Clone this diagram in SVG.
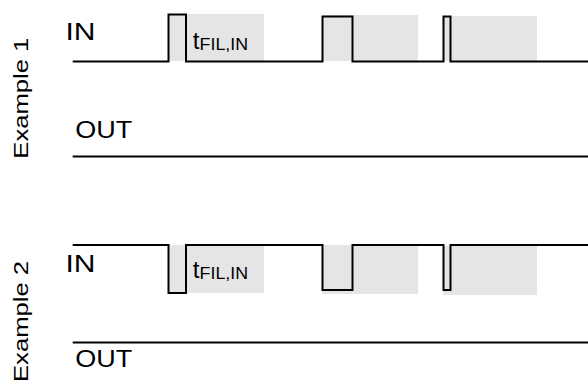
<svg xmlns="http://www.w3.org/2000/svg" width="588" height="386" viewBox="0 0 588 386">
<style>
.sig{fill:none;stroke:#000;stroke-width:2;stroke-linejoin:miter}
.win{fill:#e5e5e5;stroke:none}
.lbl{font-family:"Liberation Sans",Arial,sans-serif;font-size:23px;fill:#000}
.ex{font-size:21px}
.t{font-size:24px}
.sub{font-size:16px}
</style>
<rect width="588" height="386" fill="#fff"/>
<g id="filters1">
<rect class="win" x="168" y="14" width="96" height="47"/>
<rect class="win" x="323" y="15" width="95" height="46"/>
<rect class="win" x="444" y="16" width="93" height="45"/>
</g>
<g id="filters2">
<rect class="win" x="168" y="245" width="96" height="48"/>
<rect class="win" x="322" y="245" width="96" height="49"/>
<rect class="win" x="443" y="246" width="94" height="49"/>
</g>
<g id="connectors">
<path class="sig" d="M72.7,61.5 H168.5 V14.5 H186 V61.5 H322.5 V16.5 H352.5 V61.5 H443.5 V16.5 H450.5 V61.5 H588"/>
<path class="sig" d="M72.7,156.5 H588"/>
<path class="sig" d="M72.7,245 H168.5 V293 H186 V245 H322.5 V290 H352.5 V245 H443.5 V290 H450.5 V245 H588"/>
<path class="sig" d="M72.7,342.5 H588"/>
</g>
<g id="example1">
<text class="lbl ex" transform="translate(28.3,158.7) rotate(-90)" textLength="121" lengthAdjust="spacingAndGlyphs">Example 1</text>
<text class="lbl" x="65.5" y="40" textLength="30" lengthAdjust="spacingAndGlyphs">IN</text>
<text class="lbl t" x="192.8" y="48.5">t</text>
<text class="lbl sub" x="199.6" y="50" textLength="48.4" lengthAdjust="spacingAndGlyphs">FIL,IN</text>
<text class="lbl" x="75.2" y="138.3" textLength="57" lengthAdjust="spacingAndGlyphs">OUT</text>
</g>
<g id="example2">
<text class="lbl ex" transform="translate(28.3,382) rotate(-90)" textLength="121" lengthAdjust="spacingAndGlyphs">Example 2</text>
<text class="lbl" x="65.5" y="271.7" textLength="30" lengthAdjust="spacingAndGlyphs">IN</text>
<text class="lbl t" x="192.8" y="277.5">t</text>
<text class="lbl sub" x="199.6" y="279" textLength="48.4" lengthAdjust="spacingAndGlyphs">FIL,IN</text>
<text class="lbl" x="75.2" y="367.3" textLength="57" lengthAdjust="spacingAndGlyphs">OUT</text>
</g>
</svg>
